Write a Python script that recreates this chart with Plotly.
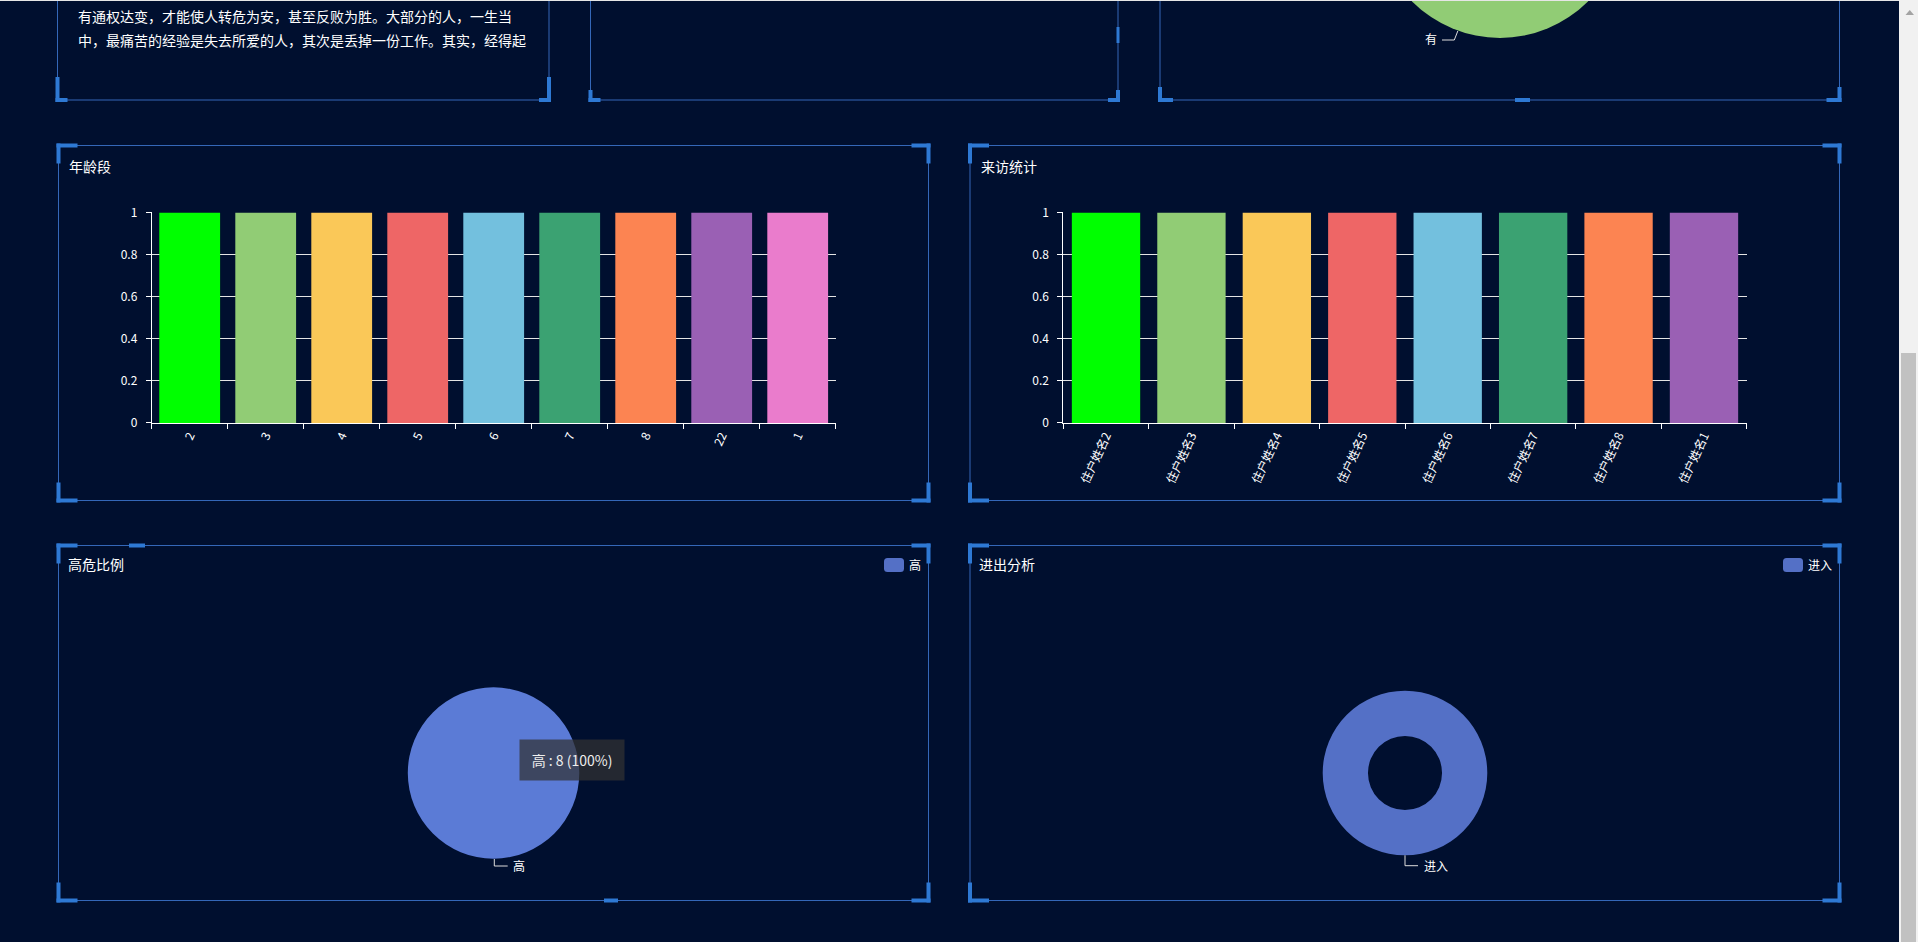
import plotly.graph_objects as go

# ---------------- data ----------------
intro_lines = [
    "有通权达变，才能使人转危为安，甚至反败为胜。大部分的人，一生当",
    "中，最痛苦的经验是失去所爱的人，其次是丢掉一份工作。其实，经得起",
]
age_categories = ["2", "3", "4", "5", "6", "7", "8", "22", "1"]
age_values = [1, 1, 1, 1, 1, 1, 1, 1, 1]
visit_categories = ["住户姓名2", "住户姓名3", "住户姓名4", "住户姓名5",
                    "住户姓名6", "住户姓名7", "住户姓名8", "住户姓名1"]
visit_values = [1, 1, 1, 1, 1, 1, 1, 1]
bar_colors = ["#00ff00", "#91cc75", "#fac858", "#ee6666", "#73c0de",
              "#3ba272", "#fc8452", "#9a60b4", "#ea7ccc"]
y_tick_vals = [0, 0.2, 0.4, 0.6, 0.8, 1]
y_tick_text = ["0", "0.2", "0.4", "0.6", "0.8", "1"]
risk_labels = ["高"]
risk_values = [8]
flow_labels = ["进入"]
flow_values = [1]
presence_labels = ["有"]
presence_values = [1]
tooltip_text = "高 : 8 (100%)"

# ---------------- layout helpers ----------------
W, H = 1918, 942
BG = "#000f2f"
BORDER = "#3467b8"
BRACKET = "#2e79d4"
FONT = "Noto Sans CJK SC, Microsoft YaHei, sans-serif"


def px(x):
    return x / W


def py(y):
    return 1 - y / H


shapes = []
annotations = []


def rect(x0, y0, x1, y1, fill=None, line=None, lw=0):
    shapes.append(dict(type="rect", xref="paper", yref="paper",
                       x0=px(x0), x1=px(x1), y0=py(y1), y1=py(y0),
                       fillcolor=fill if fill else "rgba(0,0,0,0)",
                       line=dict(color=line if line else "rgba(0,0,0,0)", width=lw)))


def polyline(points, color="#dddddd", width=1):
    d = "M " + " L ".join(f"{px(x)},{py(y)}" for x, y in points)
    shapes.append(dict(type="path", xref="paper", yref="paper", path=d,
                       line=dict(color=color, width=width)))


def rounded(x0, y0, x1, y1, r, color):
    pts = [
        f"M {px(x0 + r)},{py(y0)}", f"L {px(x1 - r)},{py(y0)}",
        f"Q {px(x1)},{py(y0)} {px(x1)},{py(y0 + r)}", f"L {px(x1)},{py(y1 - r)}",
        f"Q {px(x1)},{py(y1)} {px(x1 - r)},{py(y1)}", f"L {px(x0 + r)},{py(y1)}",
        f"Q {px(x0)},{py(y1)} {px(x0)},{py(y1 - r)}", f"L {px(x0)},{py(y0 + r)}",
        f"Q {px(x0)},{py(y0)} {px(x0 + r)},{py(y0)} Z",
    ]
    shapes.append(dict(type="path", xref="paper", yref="paper", path=" ".join(pts),
                       fillcolor=color, line=dict(width=0)))


def text(x, y, s, size=12, anchor="left", color="#ffffff", **kw):
    annotations.append(dict(xref="paper", yref="paper", x=px(x), y=py(y), text=s,
                            showarrow=False, xanchor=anchor, yanchor="middle",
                            font=dict(family=FONT, size=size, color=color), **kw))


def corner(x, y, dx, dy, lh, lv, t=4):
    hx0, hx1 = (x - t / 2, x - t / 2 + lh) if dx > 0 else (x + t / 2 - lh, x + t / 2)
    rect(hx0, y - t / 2, hx1, y + t / 2, fill=BRACKET)
    vy0, vy1 = (y - t / 2, y - t / 2 + lv) if dy > 0 else (y + t / 2 - lv, y + t / 2)
    rect(x - t / 2, vy0, x + t / 2, vy1, fill=BRACKET)


# ---------------- panels ----------------
panels_top = [(57.5, 549), (590.5, 1118), (1160, 1839.5)]
for x0, x1 in panels_top:
    rect(x0, -20, x1, 100, line=BORDER, lw=1)
corner(57.5, 100, 1, -1, 12, 25)
corner(549, 100, -1, -1, 12, 25)
corner(590.5, 100, 1, -1, 12, 12)
corner(1118, 100, -1, -1, 12, 12)
corner(1160, 100, 1, -1, 15, 15)
corner(1839.5, 100, -1, -1, 15, 15)
rect(1116.5, 27, 1119.5, 43, fill=BRACKET)
rect(1515, 98, 1530, 102, fill=BRACKET)

big_panels = [(58.5, 145.5, 928.5, 500.5), (970, 145.5, 1839.5, 500.5),
              (58.5, 545.5, 928.5, 900.5), (970, 545.5, 1839.5, 900.5)]
for x0, y0, x1, y1 in big_panels:
    rect(x0, y0, x1, y1, line=BORDER, lw=1)
    corner(x0, y0, 1, 1, 21, 20)
    corner(x1, y0, -1, 1, 19, 20)
    corner(x0, y1, 1, -1, 21, 20)
    corner(x1, y1, -1, -1, 19, 20)
rect(129, 543.5, 145, 547.5, fill=BRACKET)
rect(604, 898.5, 618, 902.5, fill=BRACKET)

# titles & text
for i, line in enumerate(intro_lines):
    text(76, 16 + 24 * i, line, size=14)
text(67, 166, "年龄段", size=14)
text(979, 166, "来访统计", size=14)
text(66, 564, "高危比例", size=14)
text(977, 564, "进出分析", size=14)

# legends
rounded(884, 558, 904, 572, 3.5, "#5470c6")
text(914.5, 564, risk_labels[0], size=12, anchor="center")
rounded(1783, 558, 1803, 572, 3.5, "#5470c6")
text(1820, 564, flow_labels[0], size=12, anchor="center")

# pie labels with leader lines
polyline([(494.3, 859), (494.3, 866), (507.7, 866)])
text(519, 865, risk_labels[0], size=12, anchor="center")
polyline([(1405, 855.3), (1405, 865.7), (1418, 865.7)])
text(1435.7, 865, flow_labels[0], size=12, anchor="center")
polyline([(1457.8, 31), (1454.3, 40), (1442, 40)])
text(1430.5, 39, presence_labels[0], size=12, anchor="center")

# tooltip
annotations.append(dict(xref="paper", yref="paper", x=px(572), y=py(760), text=tooltip_text,
                        showarrow=False, xanchor="center", yanchor="middle",
                        width=96, height=32, borderpad=4, bgcolor="rgba(50,50,50,0.72)",
                        font=dict(family=FONT, size=14, color="#eeeeee")))

# page chrome: top line and scrollbar
rect(0, 0, 1899, 1, fill="#e6e6e6")
rect(1899, 0, 1918, 942, fill="#f1f1f1")
rect(1901, 353, 1916, 942, fill="#c1c1c1")
shapes.append(dict(type="path", xref="paper", yref="paper",
                   path=f"M {px(1905.5)},{py(15)} L {px(1914)},{py(15)} L {px(1909.75)},{py(10)} Z",
                   fillcolor="#a3a3a3", line=dict(width=0)))

# ---------------- traces ----------------
fig = go.Figure()
fig.add_trace(go.Bar(x=age_categories, y=age_values,
                     marker=dict(color=bar_colors[:len(age_values)], line=dict(width=0)),
                     xaxis="x", yaxis="y", hoverinfo="skip", showlegend=False))
fig.add_trace(go.Bar(x=visit_categories, y=visit_values,
                     marker=dict(color=bar_colors[:len(visit_values)], line=dict(width=0)),
                     xaxis="x2", yaxis="y2", hoverinfo="skip", showlegend=False))

fig.add_trace(go.Pie(labels=risk_labels, values=risk_values, sort=False, automargin=False,
                     domain=dict(x=[px(407.8), px(579.2)], y=[py(858.7), py(687.3)]),
                     marker=dict(colors=["#5b7bd6"], line=dict(width=0)),
                     textinfo="none", hoverinfo="skip", showlegend=False))
fig.add_trace(go.Pie(labels=flow_labels, values=flow_values, sort=False, hole=0.45,
                     automargin=False,
                     domain=dict(x=[px(1322.7), px(1487.3)], y=[py(855.3), py(690.7)]),
                     marker=dict(colors=["#5470c6"], line=dict(width=0)),
                     textinfo="none", hoverinfo="skip", showlegend=False))

# presence pie (single slice, centre scrolled above the visible page, clipped by its subplot)
PIE3_CX, PIE3_CY, PIE3_R = 1500, -86, 124
fig.add_trace(go.Scatter(x=[PIE3_CX] * len(presence_values), y=[-PIE3_CY] * len(presence_values),
                         mode="markers", text=presence_labels,
                         marker=dict(size=2 * PIE3_R, color="#91cc75", line=dict(width=0)),
                         xaxis="x3", yaxis="y3", hoverinfo="skip", showlegend=False,
                         cliponaxis=True))

Y_TOP = 1.004  # small headroom so the gridline at 1 is not clipped
Y_PIX0, Y_PIX1 = 423, 212.7
y_dom_top = Y_PIX0 - (Y_PIX0 - Y_PIX1) * Y_TOP

axis_common = dict(showline=True, linecolor="#ffffff", linewidth=1, ticks="outside",
                   ticklen=5, tickcolor="#ffffff", tickwidth=1, fixedrange=True,
                   automargin=False,
                   tickfont=dict(family=FONT, size=12, color="#ffffff"))
xcat = dict(axis_common, type="category", tickson="boundaries", tickangle=-65,
            showgrid=False, zeroline=False)
yval = dict(axis_common, range=[0, Y_TOP], tickvals=y_tick_vals, ticktext=y_tick_text,
            showgrid=True, gridcolor="#e4e4e4", gridwidth=1, zeroline=False,
            ticklabelstandoff=6)

fig.update_layout(
    template="none",
    width=W, height=H, margin=dict(l=0, r=0, t=0, b=0, pad=0, autoexpand=False),
    paper_bgcolor=BG, plot_bgcolor="rgba(0,0,0,0)",
    bargap=0.2, hovermode=False, showlegend=False,
    font=dict(family=FONT, color="#ffffff"),
    xaxis=dict(xcat, domain=[px(151.7), px(835.7)], anchor="y"),
    yaxis=dict(yval, domain=[py(Y_PIX0), py(y_dom_top)], anchor="x"),
    xaxis2=dict(xcat, domain=[px(1063.3), px(1746.7)], anchor="y2"),
    yaxis2=dict(yval, domain=[py(Y_PIX0), py(y_dom_top)], anchor="x2"),
    xaxis3=dict(domain=[px(1160), px(1839.5)], range=[1160, 1839.5], visible=False,
                anchor="y3", fixedrange=True, automargin=False),
    yaxis3=dict(domain=[py(100), 1], range=[-100, 0], visible=False,
                anchor="x3", fixedrange=True, automargin=False),
    shapes=shapes, annotations=annotations,
)

page_fix = (
    "var de=document.documentElement, b=document.body;"
    "de.style.overflow='hidden'; de.style.margin='0'; de.style.padding='0';"
    f"de.style.height='{H}px'; b.style.height='{H}px';"
    "b.style.margin='0'; b.style.padding='0'; b.style.overflow='hidden';"
    f"b.style.background='{BG}'; de.style.background='{BG}';"
    "var g=document.getElementsByClassName('plotly-graph-div')[0];"
    "g.style.position='fixed'; g.style.top='0px'; g.style.left='0px';"
    "window.scrollTo(0,0);"
)

fig.write_html("out.html", config={"displayModeBar": False}, post_script=page_fix)
